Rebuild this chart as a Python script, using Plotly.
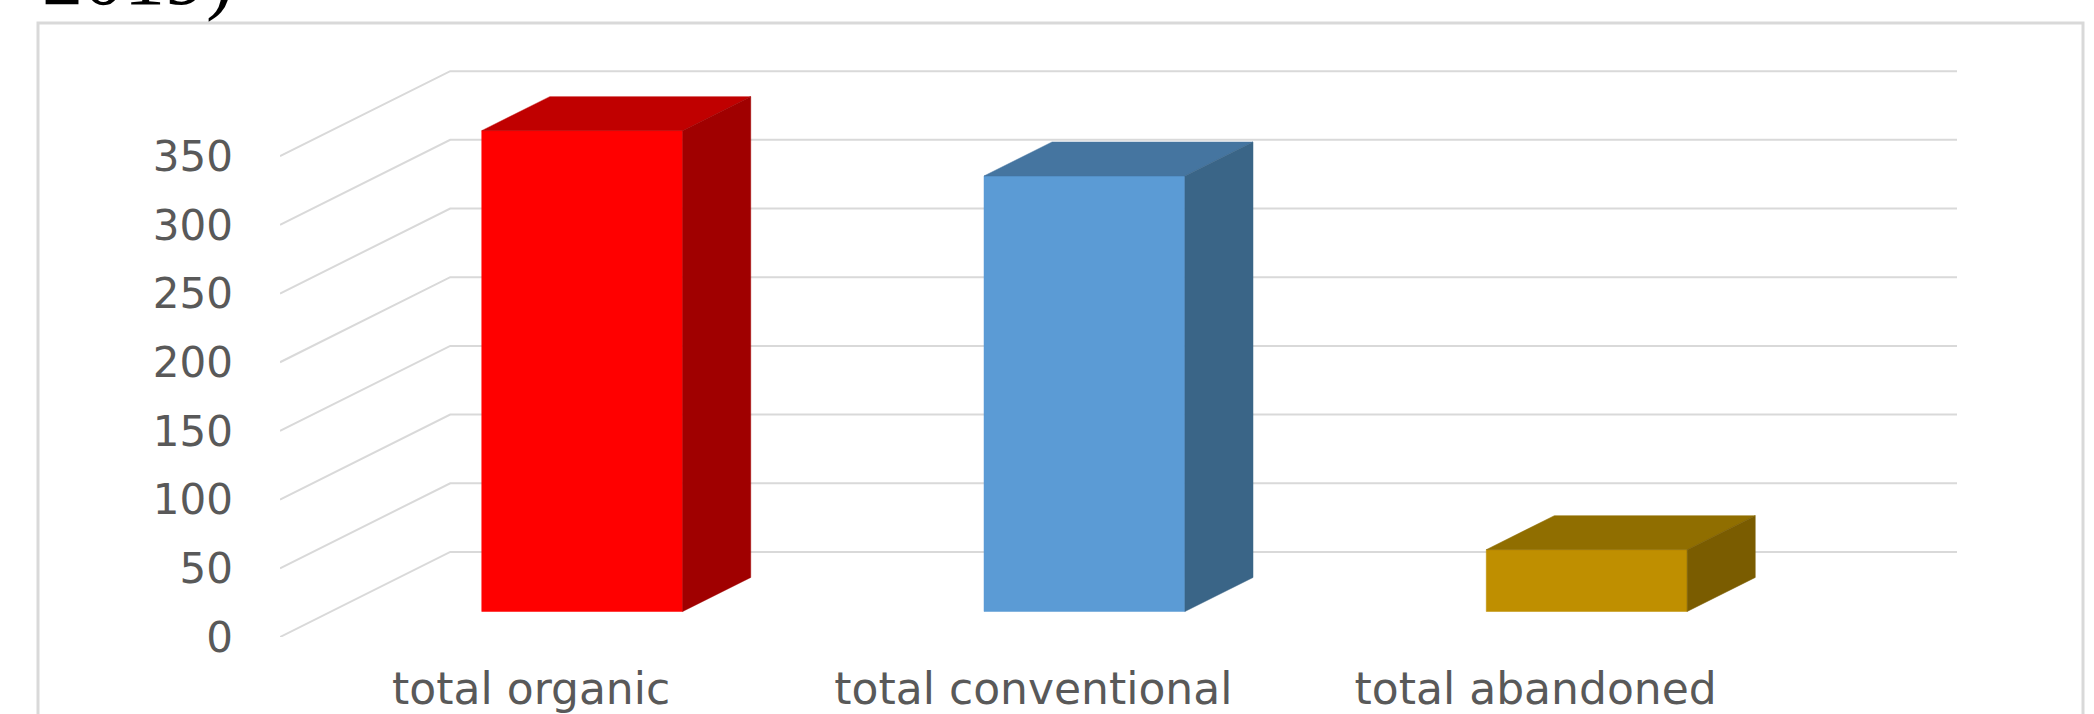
import plotly.graph_objects as go

# ---- data ----
categories = ["total organic", "total conventional", "total abandoned"]
values = [350, 317, 45]
front_colors = ["#FF0000", "#5B9BD5", "#BF8F00"]
top_colors = ["#C00000", "#4575A0", "#906E00"]
side_colors = ["#A00000", "#3A6587", "#7A5C00"]
tick_values = [0, 50, 100, 150, 200, 250, 300, 350]
tick_labels = ["0", "50", "100", "150", "200", "250", "300", "350"]

# ---- oblique 3D projection settings (in data units) ----
W, H = 2094, 714
DX = 0.3389   # depth shift along x (category units)
DY = 61.9     # depth shift along y (value units)
Z0, Z1 = 0.3, 0.7   # bar depth span
HALF = 0.2          # half bar width (category units)
GRID = "#D9D9D9"
TXT = "#595959"


def P(x, v, z):
    return x + z * DX, v + z * DY


fig = go.Figure()

# gridlines: left wall diagonal + back wall horizontal
n = len(categories)
for v in tick_values:
    pts = [P(0, v, 0), P(0, v, 1), P(n, v, 1)]
    fig.add_trace(go.Scatter(x=[p[0] for p in pts], y=[p[1] for p in pts], mode="lines",
                             line=dict(color=GRID, width=2), hoverinfo="skip", showlegend=False))

# bars as three faces
for i, (cat, v) in enumerate(zip(categories, values)):
    c = i + 0.5
    faces = [
        ([P(c - HALF, 0, Z0), P(c + HALF, 0, Z0), P(c + HALF, v, Z0), P(c - HALF, v, Z0)], front_colors[i]),
        ([P(c - HALF, v, Z0), P(c + HALF, v, Z0), P(c + HALF, v, Z1), P(c - HALF, v, Z1)], top_colors[i]),
        ([P(c + HALF, 0, Z0), P(c + HALF, 0, Z1), P(c + HALF, v, Z1), P(c + HALF, v, Z0)], side_colors[i]),
    ]
    for pts, col in faces:
        xs = [p[0] for p in pts] + [pts[0][0]]
        ys = [p[1] for p in pts] + [pts[0][1]]
        fig.add_trace(go.Scatter(x=xs, y=ys, mode="lines", fill="toself", fillcolor=col,
                                 line=dict(color=col, width=0.5), hoverinfo="skip",
                                 showlegend=False, name=cat))

# chart frame
fig.add_shape(type="rect", xref="paper", yref="paper",
              x0=38 / W, x1=2083 / W, y0=-0.2, y1=1 - 23 / H,
              line=dict(color="#D9D9D9", width=3), fillcolor="rgba(0,0,0,0)", layer="below")

# cut-off caption fragment above the chart
fig.add_annotation(text="2019)", xref="paper", yref="paper", x=40 / W, y=1 - 24 / H,
                   xanchor="left", yanchor="bottom", showarrow=False,
                   font=dict(family="Liberation Serif", size=82, color="#000000"))

fig.update_layout(
    width=W, height=H,
    margin=dict(l=0, r=0, t=0, b=0),
    paper_bgcolor="white", plot_bgcolor="rgba(0,0,0,0)",
    showlegend=False,
    xaxis=dict(domain=[280 / W, 1957 / W], range=[0, n + DX],
               tickvals=[i + 0.5 for i in range(n)], ticktext=categories,
               showgrid=False, zeroline=False, showline=False, ticks="",
               ticklabelstandoff=22, automargin=False,
               tickfont=dict(family="DejaVu Sans", size=44, color=TXT)),
    yaxis=dict(domain=[77 / H, 654 / H], range=[0, 420],
               tickvals=tick_values, ticktext=tick_labels,
               showgrid=False, zeroline=False, showline=False, ticks="",
               ticklabelstandoff=46, automargin=False,
               tickfont=dict(family="DejaVu Sans", size=42, color=TXT)),
)

fig.write_html("out.html")
